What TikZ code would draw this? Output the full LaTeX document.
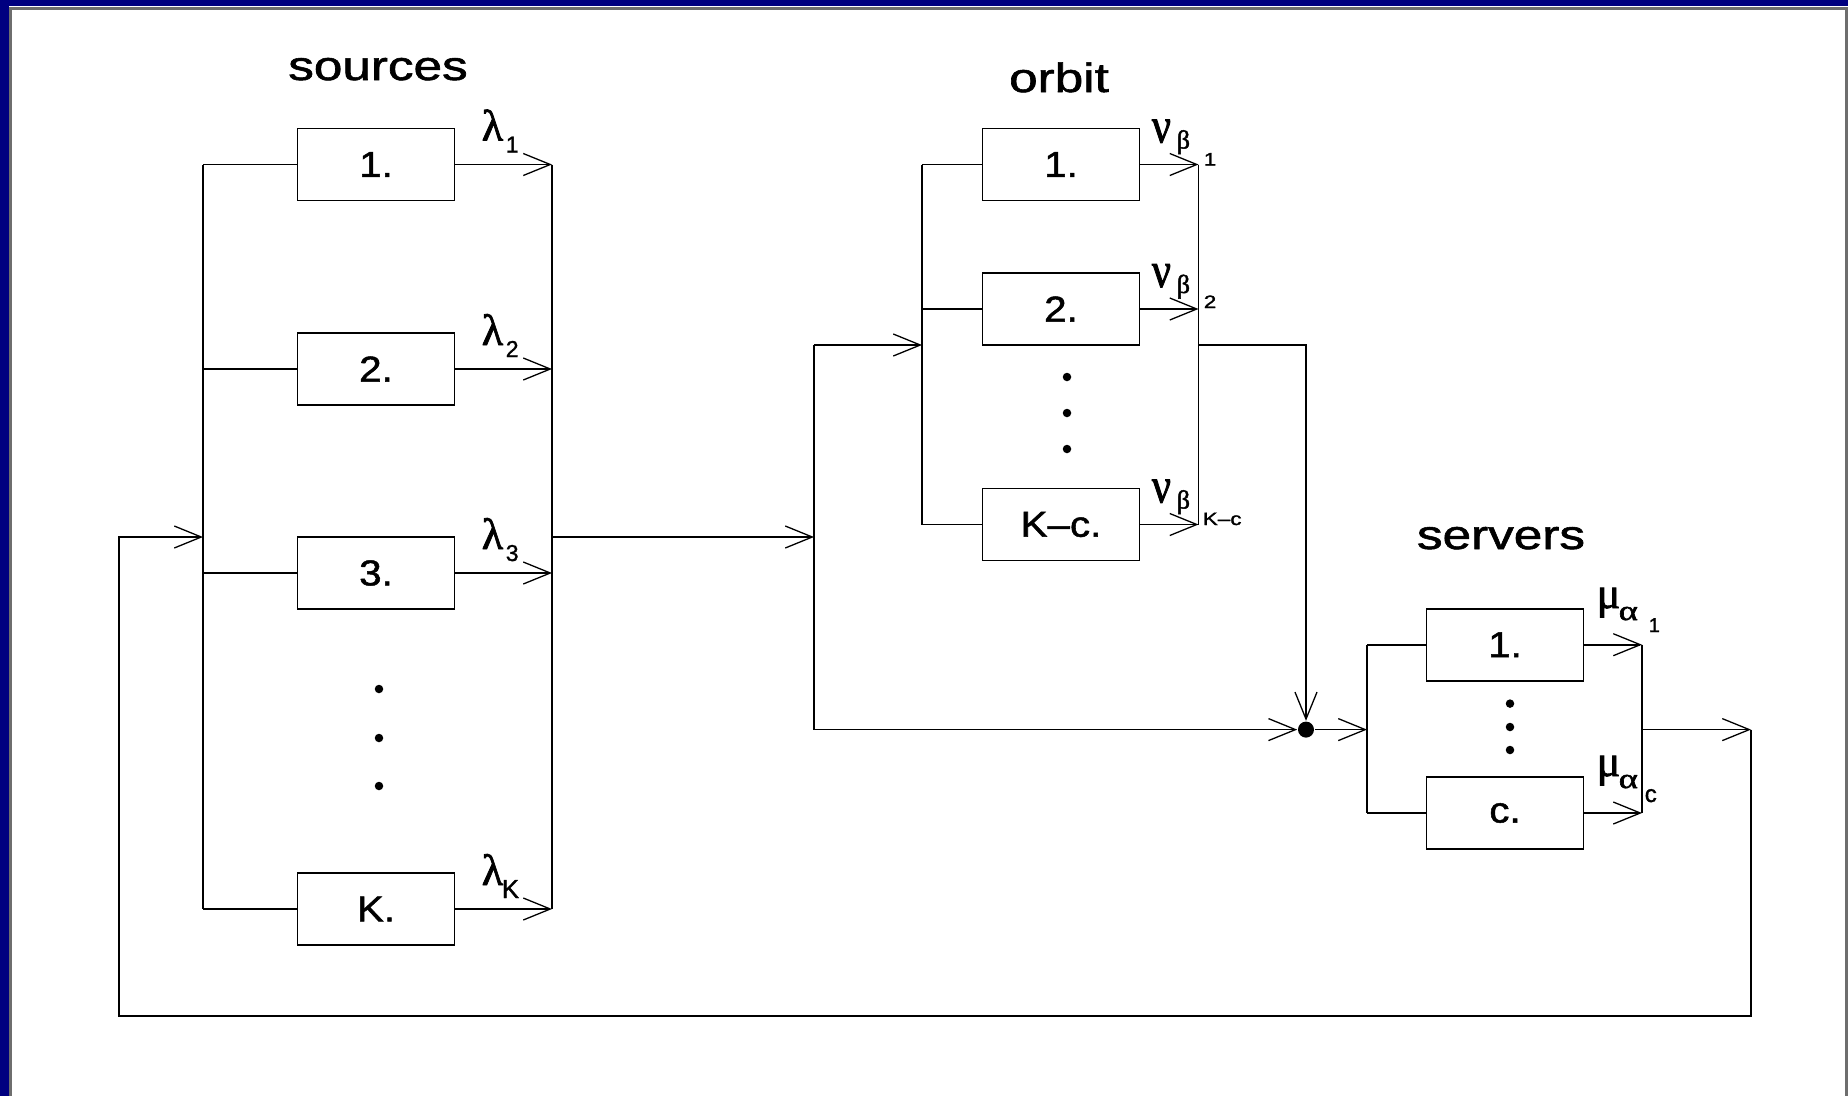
\documentclass[tikz,border=0pt]{standalone}
\usepackage{graphicx}
\usepackage{fontspec}
\setmainfont{Liberation Sans}[FakeBold=1.3]
\newfontfamily\greekfont{Liberation Serif}[FakeBold=1.8]
\usetikzlibrary{arrows.meta}

\definecolor{band}{RGB}{0,0,128}
\definecolor{rim}{RGB}{110,110,110}

% horizontally widened text
\newcommand\wide[2][1.25]{\scalebox{#1}[1]{#2}}

\begin{document}
\begin{tikzpicture}[x=1pt,y=-1pt,line width=1.6pt,
  stage/.style={draw,line width=1.6pt,minimum width=157pt,minimum height=72pt,inner sep=0pt,
    font=\fontsize{36}{36}\selectfont},
  flow/.style={-{Straight Barb[length=27pt,width=22pt,line width=1.3pt]}},
  title/.style={font=\fontsize{41}{41}\selectfont,anchor=base,inner sep=0pt},
  gk/.style={font=\greekfont\fontsize{44}{44}\selectfont,anchor=base west,inner sep=0pt},
  gks/.style={font=\greekfont\fontsize{26}{26}\selectfont,anchor=base west,inner sep=0pt},
  sub/.style={font=\fontsize{23}{23}\selectfont,anchor=base west,inner sep=0pt},
  subs/.style={font=\fontsize{18}{18}\selectfont,anchor=base west,inner sep=0pt},
  dotmark/.style={circle,fill,inner sep=0pt,minimum size=8.5pt},
]
% page and window frame
\useasboundingbox (0,0) rectangle (1848,1096);
\fill[white] (0,0) rectangle (1848,1096);
\fill[band] (0,0) rectangle (9,1096);
\fill[band] (0,0) rectangle (1848,6);
\fill[rim] (9,7) rectangle (1848,9.5);
\fill[rim] (9,7) rectangle (11.5,1096);
\fill[rim] (1845,7) rectangle (1848,1096);

% ---------------- sources ----------------
\node[title] (tsrc) at (378,80) {\wide{sources}};
\node[stage] (s1) at (376,164.5) {\wide[1.12]{1.}};
\node[stage] (s2) at (376,369) {\wide[1.12]{2.}};
\node[stage] (s3) at (376,573) {\wide[1.12]{3.}};
\node[stage] (sK) at (376,909) {\wide[1.12]{K.}};
\node[dotmark] (sd1) at (379,689) {};
\node[dotmark] (sd2) at (379,738) {};
\node[dotmark] (sd3) at (379,786) {};
\coordinate (sbusL) at (203,537);
\coordinate (sbusR) at (552,537);

\draw (sbusL |- s1.west) -- (sbusL |- sK.west);
\draw (sbusR |- s1.east) -- (sbusR |- sK.east);
\foreach \n in {s1,s2,s3,sK} {
  \draw (\n.west) -- (\n.west -| sbusL);
  \draw[flow] (\n.east) -- (\n.east -| sbusR);
}
\foreach \n/\r/\i in {l1/164.5/1,l2/369/2,l3/573/3} {
  \node[gk] (\n) at (481,\r-24) {λ};
  \node[sub] (\n i) at (505,\r-12) {\i};
}
\node[gk] (lK) at (481,885) {λ};
\node[sub,font=\fontsize{26}{26}\selectfont] (lKi) at (501,898) {K};

% ---------------- orbit ----------------
\node[title] (torb) at (1059,92) {\wide{orbit}};
\node[stage] (o1) at (1061,164.5) {\wide[1.12]{1.}};
\node[stage] (o2) at (1061,309) {\wide[1.12]{2.}};
\node[stage] (oK) at (1061,524.5) {\wide[1.12]{K‒c.}};
\node[dotmark] (od1) at (1067,377) {};
\node[dotmark] (od2) at (1067,413) {};
\node[dotmark] (od3) at (1067,449) {};
\coordinate (obusL) at (922,345);
\coordinate (obusR) at (1198.5,345);
\coordinate (split) at (814,537);
\coordinate (otop) at (814,345);
\coordinate (obot) at (814,729.6);

\draw (obusL |- o1.west) -- (obusL |- oK.west);
\draw (obusR |- o1.east) -- (obusR |- oK.east);
\foreach \n in {o1,o2,oK} {
  \draw (\n.west) -- (\n.west -| obusL);
  \draw[flow] (\n.east) -- (\n.east -| obusR);
}
\foreach \n/\r in {n1/164.5,n2/309,nK/524.5} {
  \node[gk,font=\greekfont\fontsize{50}{50}\selectfont] (\n) at (1151,\r-22) {\wide[0.85]{ν}};
  \node[gks] (\n b) at (1176,\r-16) {β};
}
\node[subs] (n1i) at (1203,165.5) {\wide{1}};
\node[subs] (n2i) at (1203,308) {\wide{2}};
\node[subs] (nKi) at (1202,525) {\wide{K–c}};

% ---------------- junction and servers ----------------
\node[circle,fill,inner sep=0pt,minimum size=16pt] (j) at (1306,729.6) {};
\node[title] (tsrv) at (1501,549) {\wide{servers}};
\node[stage] (v1) at (1505,644.7) {\wide[1.12]{1.}};
\node[stage] (vc) at (1505,813) {\wide[1.12]{c.}};
\node[dotmark] (vd1) at (1510,703.6) {};
\node[dotmark] (vd2) at (1510,727) {};
\node[dotmark] (vd3) at (1510,750) {};
\coordinate (vbusL) at (1367,729.6);
\coordinate (vbusR) at (1642,729.6);

\draw (vbusL |- v1.west) -- (vbusL |- vc.west);
\draw (vbusR |- v1.east) -- (vbusR |- vc.east);
\foreach \n in {v1,vc} {
  \draw (\n.west) -- (\n.west -| vbusL);
  \draw[flow] (\n.east) -- (\n.east -| vbusR);
}
\node[gk] (m1) at (1596,608) {μ};
\node[gks,font=\greekfont\fontsize{28}{28}\selectfont] (m1a) at (1618,620) {\wide[1.3]{α}};
\node[sub,font=\fontsize{20}{20}\selectfont] (m1i) at (1648,632) {1};
\node[gk] (mc) at (1596,776) {μ};
\node[gks,font=\greekfont\fontsize{28}{28}\selectfont] (mca) at (1618,788) {\wide[1.3]{α}};
\node[sub,font=\fontsize{24}{24}\selectfont] (mci) at (1644,802) {c};

% ---------------- connections between the stages ----------------
\draw[flow] (sbusR) -- (split);
\draw (otop) -- (obot);
\draw[flow] (otop) -- (obusL);
\draw[flow] (obusR) -| (j.north);
\draw[flow] (obot) -- (j.west);
\draw[flow] (j.east) -- (vbusL);

% feedback loop back to the sources
\coordinate (fb1) at (1751,729.6);
\coordinate (fbL) at (119,1016);
\draw[flow] (vbusR) -- (fb1);
\draw[flow] (fb1) |- (fbL) |- (sbusL);
\end{tikzpicture}
\end{document}
